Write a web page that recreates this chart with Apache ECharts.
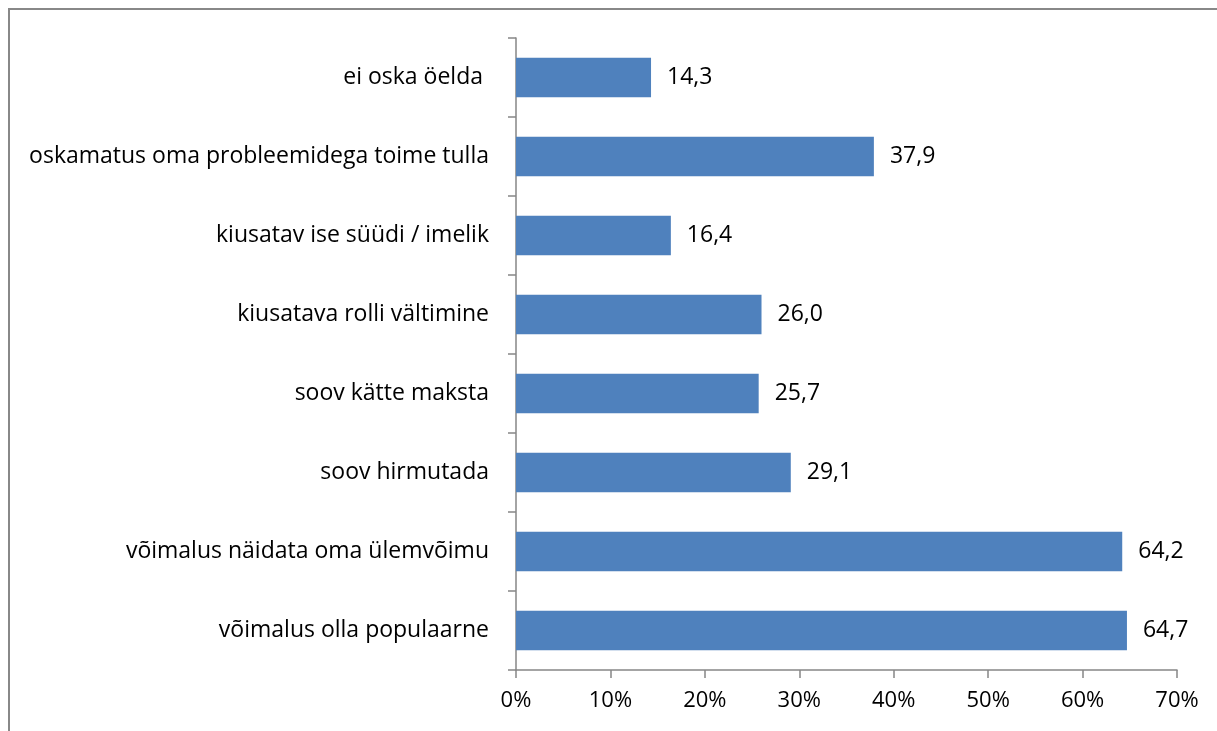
<!doctype html>
<html>
<head>
<meta charset="utf-8">
<title>kiusamise põhjused</title>
<script src="https://cdn.jsdelivr.net/npm/echarts@6/dist/echarts.min.js"></script>
<style>
    html, body { margin: 0; padding: 0; background: #fff; }
    #chart { width: 1217px; height: 731px; }
</style>
</head>
<body>
<div id="chart"></div>
<script>
    // kategooriad ülevalt alla
    var categories = [
        'ei oska öelda ',
        'oskamatus oma probleemidega toime tulla',
        'kiusatav ise süüdi / imelik',
        'kiusatava rolli vältimine',
        'soov kätte maksta',
        'soov hirmutada',
        'võimalus näidata oma ülemvõimu',
        'võimalus olla populaarne'
    ];
    var values = [14.3, 37.9, 16.4, 26.0, 25.7, 29.1, 64.2, 64.7];
    var axisMax = 70;
    var axisStep = 10;

    var font = '"Open Sans", sans-serif';
    var myChart = echarts.init(document.getElementById('chart'));
    var option = {
        animation: false,
        backgroundColor: '#fff',
        graphic: [{
            type: 'rect',
            shape: { x: 9, y: 9, width: 1240, height: 760 },
            style: { fill: 'none', stroke: '#888', lineWidth: 2 },
            silent: true
        }],
        grid: { left: 516, right: 40, top: 38, bottom: 61 },
        xAxis: {
            type: 'value',
            min: 0,
            max: axisMax,
            interval: axisStep,
            axisLine: { show: true, lineStyle: { color: '#868686', width: 1.5 } },
            axisTick: { show: true, length: 8, lineStyle: { color: '#868686', width: 1.5 } },
            splitLine: { show: false },
            axisLabel: {
                color: '#000',
                fontFamily: font,
                fontSize: 22,
                margin: 20,
                formatter: '{value}%'
            }
        },
        yAxis: {
            type: 'category',
            inverse: true,
            data: categories,
            axisLine: { show: true, lineStyle: { color: '#868686', width: 1.5 } },
            axisTick: { show: true, length: 8, lineStyle: { color: '#868686', width: 1.5 } },
            axisLabel: {
                color: '#000',
                fontFamily: font,
                fontSize: 23,
                margin: 27
            }
        },
        series: [{
            type: 'bar',
            data: values,
            barCategoryGap: '50%',
            itemStyle: { color: '#4f81bd' },
            label: {
                show: true,
                position: 'right',
                distance: 16,
                color: '#000',
                fontFamily: font,
                fontSize: 23,
                formatter: function (p) {
                    return p.value.toFixed(1).replace('.', ',');
                }
            }
        }]
    };
    myChart.setOption(option);
</script>
</body>
</html>
